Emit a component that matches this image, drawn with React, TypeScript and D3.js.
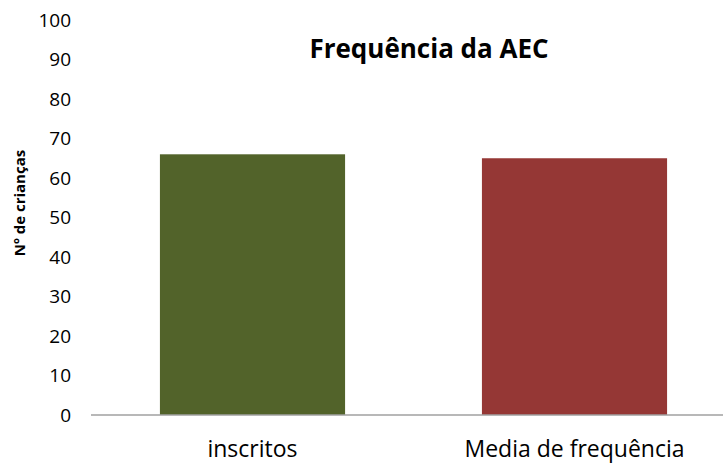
import React from "react";
import * as d3 from "d3";

const categories = ["inscritos", "Media de frequência"];
const values = [66, 65];
const colors = ["#52632A", "#953735"];
const yTicks = [0, 10, 20, 30, 40, 50, 60, 70, 80, 90, 100];
const title = "Frequência da AEC";
const yTitle = "Nº de crianças";

const W = 726;
const H = 467;
const FONT = "'Open Sans', 'Noto Sans', sans-serif";

export default function App() {
  const y = d3.scaleLinear().domain([0, 100]).range([415, 20]);
  const x = d3
    .scaleBand<string>()
    .domain(categories)
    .range([91.5, 735.5])
    .paddingInner(0.425)
    .paddingOuter(0.2125);
  const axisStart = 91;
  const axisEnd = 723;

  return (
    <svg
      width={W}
      height={H}
      style={{ position: "absolute", left: 0, top: 0, background: "#fff" }}
      fontFamily={FONT}
    >
      {categories.map((c, i) => (
        <rect
          key={c}
          x={x(c)}
          y={y(values[i])}
          width={x.bandwidth()}
          height={y(0) - y(values[i])}
          fill={colors[i]}
        />
      ))}
      <line
        x1={axisStart}
        x2={axisEnd}
        y1={y(0)}
        y2={y(0)}
        stroke="#A0A0A0"
        strokeWidth={1.5}
      />
      {yTicks.map((t) => (
        <text
          key={t}
          x={71}
          y={y(t)}
          dy="0.36em"
          textAnchor="end"
          fontSize={19}
          fill="#000"
        >
          {t}
        </text>
      ))}
      {categories.map((c) => (
        <text
          key={c}
          x={(x(c) as number) + x.bandwidth() / 2}
          y={457}
          textAnchor="middle"
          fontSize={23}
          fill="#000"
        >
          {c}
        </text>
      ))}
      <text
        x={429}
        y={58}
        textAnchor="middle"
        fontSize={26}
        fontWeight="bold"
        fill="#000"
      >
        {title}
      </text>
      <text
        transform={`translate(25, 203) rotate(-90)`}
        textAnchor="middle"
        fontSize={15}
        fontWeight="bold"
        fill="#000"
      >
        {yTitle}
      </text>
    </svg>
  );
}
